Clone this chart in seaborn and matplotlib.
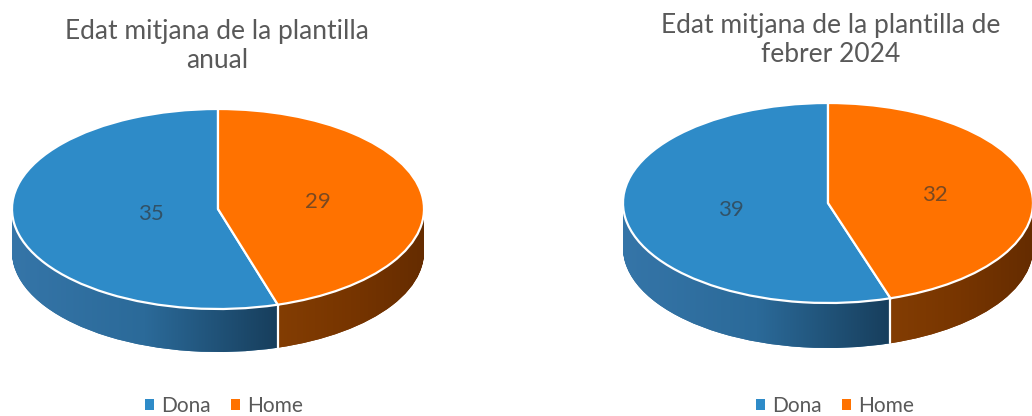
import numpy as np
import matplotlib
matplotlib.use("Agg")
import matplotlib.pyplot as plt
import seaborn as sns
from matplotlib.patches import Patch, PathPatch
from matplotlib.path import Path
from matplotlib.colors import LinearSegmentedColormap

sns.set_theme(style="white")
plt.rcParams['font.family'] = ['Lato', 'DejaVu Sans']

# ---- data ----
categories = ['Dona', 'Home']
anual = [35, 29]
febrer = [39, 32]
titles = ['Edat mitjana de la plantilla\nanual',
          'Edat mitjana de la plantilla de\nfebrer 2024']

top_colors = ['#2E8BC8', '#FF7200']
side_colors = ['#2B6B9A', '#7A3400']
side_grad = [['#3575A8', '#2B6A99', '#173E5C'],
             ['#833D03', '#773500', '#652C00']]
text_gray = '#595959'

W, H = 1032, 416
fig = plt.figure(figsize=(W / 100, H / 100), dpi=100)
fig.patch.set_facecolor('white')


def draw_pie(ax, values, depth, label_r, xlim, ylim):
    n = 40
    side = [[] for _ in values]
    for k in range(n, 0, -1):
        off = -depth * k / n
        ws, _ = ax.pie(values, colors=side_colors, startangle=90, counterclock=True,
                       center=(0, off), radius=1, wedgeprops=dict(linewidth=0))
        for i, w in enumerate(ws):
            w.set_zorder(1)
            side[i].append(w)
    wedges, _ = ax.pie(values, colors=top_colors, startangle=90, counterclock=True,
                       center=(0, 0), radius=1,
                       wedgeprops=dict(edgecolor='white', linewidth=1.6))
    for w in wedges:
        w.set_zorder(3)
    th = np.deg2rad(wedges[0].theta2)
    xs, ys = np.cos(th), np.sin(th)
    # horizontal shading of the side walls
    spans = [(-1.0, xs), (xs, 1.0)]
    for i, ws in enumerate(side):
        path = Path.make_compound_path(*[w.get_path() for w in ws])
        clip = PathPatch(path, transform=ax.transData, facecolor='none', edgecolor='none')
        ax.add_patch(clip)
        cmap = LinearSegmentedColormap.from_list('g%d' % i, side_grad[i])
        grad = np.linspace(0, 1, 256)[None, :]
        im = ax.imshow(grad, cmap=cmap, extent=(spans[i][0], spans[i][1], -1 - depth - 0.1, 1),
                       aspect='auto', zorder=2, interpolation='bilinear')
        im.set_clip_path(clip)
    # split line on the side
    ax.plot([xs, xs], [ys, ys - depth], color='white', lw=1.6, zorder=5)
    # value labels
    for w, v, r in zip(wedges, values, label_r):
        mid = np.deg2rad((w.theta1 + w.theta2) / 2)
        ax.text(r * np.cos(mid), r * np.sin(mid), str(v), ha='center', va='center',
                fontsize=16, color='#333333', alpha=0.65, zorder=6)
    ax.set_aspect('auto')
    ax.set_xlim(*xlim)
    ax.set_ylim(*ylim)
    ax.axis('off')
    return wedges


ax1 = fig.add_axes([0 / W, 0 / H, 436 / W, 326 / H])
draw_pie(ax1, anual, 0.43, [0.33, 0.49],
         (-218 / 206, 218 / 206), (-207 / 100, 119 / 100))

ax2 = fig.add_axes([600 / W, 0 / H, 432 / W, 326 / H])
draw_pie(ax2, febrer, 0.45, [0.48, 0.53],
         (-228 / 205, 204 / 205), (-213 / 100, 113 / 100))

fig.text(217 / W, 1 - 46 / H, titles[0], ha='center', va='center',
         fontsize=19, color=text_gray, linespacing=1.25)
fig.text(831 / W, 1 - 40 / H, titles[1], ha='center', va='center',
         fontsize=19, color=text_gray, linespacing=1.2)

for cx in (224, 835):
    handles = [Patch(facecolor=c, edgecolor='none', label=l)
               for c, l in zip(top_colors, categories)]
    fig.legend(handles=handles, loc='center', ncol=2, frameon=False,
               bbox_to_anchor=(cx / W, 1 - 406 / H), fontsize=15,
               handlelength=0.4, handleheight=0.4, handletextpad=0.35,
               columnspacing=1.0, labelcolor=text_gray, borderpad=0)

fig.savefig('out.png', dpi=100, facecolor='white')
